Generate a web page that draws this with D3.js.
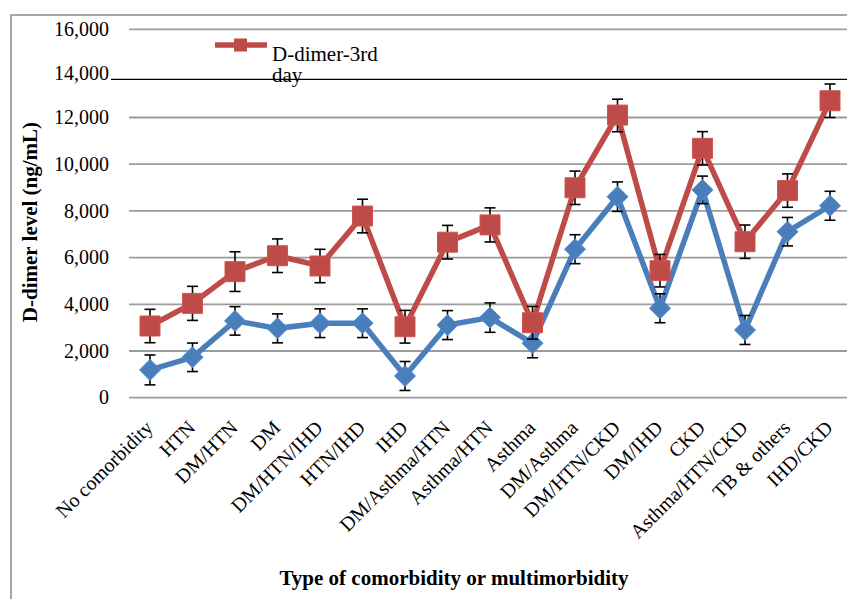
<!DOCTYPE html>
<html>
<head>
<meta charset="utf-8">
<script src="https://cdn.jsdelivr.net/npm/d3@7"></script>
<style>
  body { margin: 0; background: #ffffff; }
  svg { display: block; }
  text { font-family: "Liberation Serif", "Times New Roman", serif; fill: #000000; }
</style>
</head>
<body>
<div id="chart"></div>
<script>
// categories on the x axis
var categories = [
  "No comorbidity", "HTN", "DM/HTN", "DM", "DM/HTN/IHD", "HTN/IHD", "IHD",
  "DM/Asthma/HTN", "Asthma/HTN", "Asthma", "DM/Asthma", "DM/HTN/CKD",
  "DM/IHD", "CKD", "Asthma/HTN/CKD", "TB & others", "IHD/CKD"
];

// first series (blue diamonds, not in legend)
var firstDay = [1190, 1730, 3290, 2970, 3190, 3190, 930, 3110, 3430, 2330,
  6360, 8610, 3830, 8900, 2900, 7110, 8220];
var firstDayErr = [640, 610, 610, 620, 615, 615, 620, 620, 630, 620,
  620, 630, 620, 590, 620, 610, 620];

// D-dimer-3rd day (red squares)
var thirdDay = [3070, 4040, 5400, 6080, 5640, 7780, 3040, 6660, 7400, 3210,
  8990, 12110, 5440, 10680, 6680, 8870, 12760];
var thirdDayErr = [715, 730, 850, 720, 715, 720, 700, 720, 730, 700,
  715, 720, 695, 715, 715, 715, 760];

var yTicks = [0, 2000, 4000, 6000, 8000, 10000, 12000, 14000, 16000];

var width = 847, height = 599;
var blue = "#4a7ebb", red = "#be4b48";

var svg = d3.select("#chart")
  .append("svg")
  .attr("width", width)
  .attr("height", height);

svg.append("rect")
  .attr("width", width)
  .attr("height", height)
  .attr("fill", "#ffffff");

// outer frame (only top and left edges fall inside the picture)
svg.append("path")
  .attr("d", "M11,599 V15 H847")
  .attr("fill", "none")
  .attr("stroke", "#a6a6a6")
  .attr("stroke-width", 2);

var x = d3.scalePoint().domain(categories).range([150, 830]);
// top part of the value axis is slightly squeezed in the original
var y = d3.scaleLinear().domain([0, 12000, 16000]).range([397.7, 117.5, 29.3]);

// gridlines
svg.append("g")
  .selectAll("line")
  .data(yTicks)
  .enter()
  .append("line")
  .attr("x1", 129)
  .attr("x2", width)
  .attr("y1", function (d) { return y(d); })
  .attr("y2", function (d) { return y(d); })
  .attr("stroke", "#9c9c9c")
  .attr("stroke-width", 1.8);

// y tick labels
svg.append("g")
  .selectAll("text")
  .data(yTicks)
  .enter()
  .append("text")
  .attr("x", 109)
  .attr("y", function (d) { return y(d); })
  .attr("dy", "0.33em")
  .attr("text-anchor", "end")
  .style("font-size", "20px")
  .text(d3.format(","));

// x tick labels, rotated
svg.append("g")
  .selectAll("text")
  .data(categories)
  .enter()
  .append("text")
  .attr("transform", function (d) {
    return "translate(" + (x(d) + 4) + ",429) rotate(-45)";
  })
  .attr("text-anchor", "end")
  .style("font-size", "20px")
  .text(function (d) { return d; });

// axis titles
svg.append("text")
  .attr("transform", "translate(37,222) rotate(-90)")
  .attr("text-anchor", "middle")
  .style("font-size", "21px")
  .style("font-weight", "bold")
  .text("D-dimer level (ng/mL)");

svg.append("text")
  .attr("x", 454)
  .attr("y", 585)
  .attr("text-anchor", "middle")
  .style("font-size", "21px")
  .style("font-weight", "bold")
  .text("Type of comorbidity or multimorbidity");

function drawSeries(values, errs, color, marker) {
  var pts = categories.map(function (c, i) {
    return { c: c, v: values[i], e: errs[i] };
  });

  var g = svg.append("g");

  g.append("path")
    .datum(pts)
    .attr("fill", "none")
    .attr("stroke", color)
    .attr("stroke-width", 5.5)
    .attr("stroke-linejoin", "miter")
    .attr("d", d3.line()
      .x(function (d) { return x(d.c); })
      .y(function (d) { return y(d.v); }));

  // error bars go under the markers
  var eb = g.selectAll(".err").data(pts).enter().append("g");
  eb.append("line")
    .attr("x1", function (d) { return x(d.c); })
    .attr("x2", function (d) { return x(d.c); })
    .attr("y1", function (d) { return y(d.v + d.e); })
    .attr("y2", function (d) { return y(d.v - d.e); });
  eb.append("line")
    .attr("x1", function (d) { return x(d.c) - 5.5; })
    .attr("x2", function (d) { return x(d.c) + 5.5; })
    .attr("y1", function (d) { return y(d.v + d.e); })
    .attr("y2", function (d) { return y(d.v + d.e); });
  eb.append("line")
    .attr("x1", function (d) { return x(d.c) - 5.5; })
    .attr("x2", function (d) { return x(d.c) + 5.5; })
    .attr("y1", function (d) { return y(d.v - d.e); })
    .attr("y2", function (d) { return y(d.v - d.e); });
  eb.selectAll("line")
    .attr("stroke", "#000000")
    .attr("stroke-width", 1.6);

  g.selectAll(".mk")
    .data(pts)
    .enter()
    .append("path")
    .attr("transform", function (d) {
      return "translate(" + x(d.c) + "," + y(d.v) + ")";
    })
    .attr("d", marker)
    .attr("fill", color)
    .attr("stroke", d3.color(color).brighter(0.3))
    .attr("stroke-width", 1);
}

drawSeries(firstDay, firstDayErr, blue, "M0,-10.5L10.5,0L0,10.5L-10.5,0Z");
drawSeries(thirdDay, thirdDayErr, red, "M-10,-10H10V10H-10Z");

// legend: white box hides the 14,000 gridline, black bottom edge
var legend = svg.append("g");
legend.append("rect")
  .attr("x", 111)
  .attr("y", 33)
  .attr("width", width - 111)
  .attr("height", 46.3)
  .attr("fill", "#ffffff");
legend.append("line")
  .attr("x1", 215)
  .attr("x2", 267)
  .attr("y1", 45)
  .attr("y2", 45)
  .attr("stroke", red)
  .attr("stroke-width", 5.5);
legend.append("rect")
  .attr("x", 234)
  .attr("y", 38.5)
  .attr("width", 13)
  .attr("height", 13)
  .attr("fill", red);
legend.append("text")
  .attr("x", 272)
  .attr("y", 61)
  .style("font-size", "21px")
  .text("D-dimer-3rd");
legend.append("text")
  .attr("x", 272)
  .attr("y", 82)
  .style("font-size", "21px")
  .text("day");
// the edge line crosses "day" in the original
legend.append("line")
  .attr("x1", 111)
  .attr("x2", width)
  .attr("y1", 79.3)
  .attr("y2", 79.3)
  .attr("stroke", "#000000")
  .attr("stroke-width", 1.2);
</script>
</body>
</html>
